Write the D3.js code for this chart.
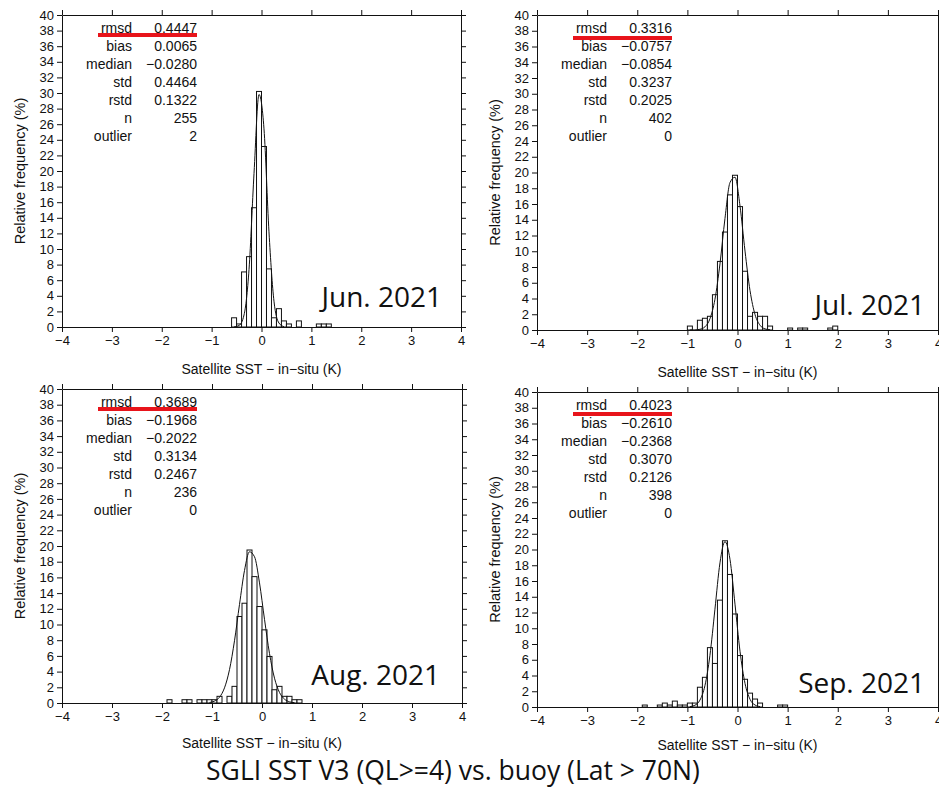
<!DOCTYPE html>
<html>
<head>
<meta charset="utf-8">
<script src="https://cdn.jsdelivr.net/npm/d3@7"></script>
<style>
  body { margin: 0; background: #fff; }
  svg { display: block; }
</style>
</head>
<body>
<svg class="chart"></svg>
<script>
// panel labels and stats
const months = ["Jun. 2021", "Jul. 2021", "Aug. 2021", "Sep. 2021"];
const statNames = ["rmsd", "bias", "median", "std", "rstd", "n", "outlier"];
const junStats = ["0.4447", "0.0065", "\u22120.0280", "0.4464", "0.1322", "255", "2"];
const julStats = ["0.3316", "\u22120.0757", "\u22120.0854", "0.3237", "0.2025", "402", "0"];
const augStats = ["0.3689", "\u22120.1968", "\u22120.2022", "0.3134", "0.2467", "236", "0"];
const sepStats = ["0.4023", "\u22120.2610", "\u22120.2368", "0.3070", "0.2126", "398", "0"];

const xTicks = [-4, -3, -2, -1, 0, 1, 2, 3, 4];
const yTicks = [0, 2, 4, 6, 8, 10, 12, 14, 16, 18, 20, 22, 24, 26, 28, 30, 32, 34, 36, 38, 40];
const binWidth = 0.1;

// histogram bins: left edge (K) and relative frequency (%)
const junBinStart = [-0.6, -0.5, -0.4, -0.3, -0.2, -0.1, 0.0, 0.1, 0.2, 0.3, 0.4, 0.5, 0.7, 1.1, 1.2, 1.3];
const junFreq = [1.18, 0.39, 7.06, 9.02, 15.29, 30.2, 23.14, 7.45, 1.18, 2.35, 0.78, 0.39, 0.78, 0.39, 0.39, 0.39];

const julBinStart = [-1.0, -0.8, -0.7, -0.6, -0.5, -0.4, -0.3, -0.2, -0.1, 0.0, 0.1, 0.2, 0.3, 0.4, 0.5, 0.6, 1.0, 1.2, 1.3, 1.8, 1.9];
const julFreq = [0.5, 1.24, 1.49, 1.74, 4.48, 8.71, 12.44, 17.16, 19.65, 15.67, 7.46, 1.74, 2.24, 1.74, 1.74, 0.5, 0.25, 0.25, 0.25, 0.25, 0.5];

const augBinStart = [-1.9, -1.6, -1.5, -1.3, -1.2, -1.1, -1.0, -0.9, -0.7, -0.6, -0.5, -0.4, -0.3, -0.2, -0.1, 0.0, 0.1, 0.2, 0.3, 0.4, 0.5, 0.6, 0.7];
const augFreq = [0.42, 0.42, 0.42, 0.42, 0.42, 0.42, 0.42, 0.85, 0.85, 2.12, 11.02, 12.71, 19.49, 16.1, 12.29, 9.32, 5.93, 1.69, 2.12, 0.85, 0.85, 0.42, 0.42];

const sepBinStart = [-1.9, -1.6, -1.5, -1.4, -1.3, -1.2, -1.1, -1.0, -0.9, -0.8, -0.7, -0.6, -0.5, -0.4, -0.3, -0.2, -0.1, 0.0, 0.1, 0.2, 0.3, 0.4, 0.8, 0.9];
const sepFreq = [0.25, 0.25, 0.5, 0.25, 0.75, 0.25, 0.25, 0.5, 0.5, 2.51, 3.77, 7.54, 5.53, 13.57, 21.11, 16.83, 11.81, 6.53, 3.52, 1.76, 1.01, 0.5, 0.25, 0.25];

// fitted curve, read at bin centres
const junCurveX = [-0.55, -0.45, -0.35, -0.25, -0.15, -0.05, 0.05, 0.15, 0.25, 0.35, 0.45];
const junCurveY = [0.01, 0.19, 1.55, 7.37, 19.7, 29.8, 25.4, 12.2, 3.31, 0.51, 0.04];

const julCurveX = [-0.95, -0.85, -0.75, -0.65, -0.55, -0.45, -0.35, -0.25, -0.15, -0.05, 0.05, 0.15, 0.25, 0.35, 0.45, 0.55, 0.65];
const julCurveY = [0.0, 0.02, 0.09, 0.4, 1.42, 3.9, 8.39, 14.16, 18.72, 19.4, 15.75, 10.02, 5.0, 1.95, 0.6, 0.14, 0.03];

const augCurveX = [-1.05, -0.95, -0.85, -0.75, -0.65, -0.55, -0.45, -0.35, -0.25, -0.15, -0.05, 0.05, 0.15, 0.25, 0.35, 0.45, 0.55, 0.65];
const augCurveY = [0.07, 0.24, 0.74, 1.93, 4.25, 7.93, 12.56, 16.88, 19.26, 18.63, 15.3, 10.66, 6.3, 3.16, 1.34, 0.49, 0.15, 0.04];

const sepCurveX = [-0.95, -0.85, -0.75, -0.65, -0.55, -0.45, -0.35, -0.25, -0.15, -0.05, 0.05, 0.15, 0.25, 0.35, 0.45];
const sepCurveY = [0.04, 0.22, 0.87, 2.7, 6.56, 12.42, 18.3, 21.0, 18.76, 13.06, 7.08, 2.99, 0.98, 0.25, 0.05];

const mainTitle = "SGLI SST V3 (QL>=4) vs. buoy (Lat > 70N)";
const xTitle = "Satellite SST \u2212 in\u2212situ (K)";
const yTitle = "Relative frequency (%)";

const width = 939, height = 787;

// where each panel sits on the page
const layout = [
  {left: 62, right: 461, top: 15, bottom: 327, labelDx: -19, labelDy: -20, redDy: 20, titleDy: 47},
  {left: 537, right: 938, top: 15, bottom: 330, labelDx: -13, labelDy: -15, redDy: 23, titleDy: 47},
  {left: 62, right: 462, top: 389, bottom: 703, labelDx: -22, labelDy: -18, redDy: 20, titleDy: 45},
  {left: 537, right: 938, top: 392, bottom: 707, labelDx: -13, labelDy: -14, redDy: 22, titleDy: 43}
];

const panelData = [
  {starts: junBinStart, freq: junFreq, cx: junCurveX, cy: junCurveY, stats: junStats},
  {starts: julBinStart, freq: julFreq, cx: julCurveX, cy: julCurveY, stats: julStats},
  {starts: augBinStart, freq: augFreq, cx: augCurveX, cy: augCurveY, stats: augStats},
  {starts: sepBinStart, freq: sepFreq, cx: sepCurveX, cy: sepCurveY, stats: sepStats}
];

const sansFont = "'Liberation Sans', Arial, Helvetica, sans-serif";
const labelFont = "'Open Sans', 'Noto Sans', sans-serif";

const svg = d3.select(".chart")
  .attr("width", width)
  .attr("height", height)
  .style("background", "#fff");

panelData.forEach((p, k) => {
  const box = layout[k];

  const x = d3.scaleLinear().domain([-4, 4]).range([box.left, box.right]);
  const y = d3.scaleLinear().domain([0, 40]).range([box.bottom, box.top]);

  const g = svg.append("g");

  // bars
  g.selectAll("rect.bar")
    .data(p.starts.map((s, i) => ({s: s, v: p.freq[i]})))
    .enter()
    .append("rect")
      .attr("class", "bar")
      .attr("x", d => x(d.s))
      .attr("y", d => y(d.v))
      .attr("width", d => x(d.s + binWidth) - x(d.s))
      .attr("height", d => y(0) - y(d.v))
      .attr("fill", "#fff")
      .attr("stroke", "#111")
      .attr("stroke-width", 1);

  // fitted curve
  const line = d3.line()
    .x(d => x(d[0]))
    .y(d => y(d[1]))
    .curve(d3.curveMonotoneX);

  g.append("path")
    .datum(p.cx.map((cx, i) => [cx, p.cy[i]]))
    .attr("d", line)
    .attr("fill", "none")
    .attr("stroke", "#111")
    .attr("stroke-width", 1);

  // axes, all four sides
  const axisStyle = sel => {
    sel.selectAll("path, line").attr("stroke", "#111");
    sel.selectAll("text")
      .attr("fill", "#111")
      .style("font-family", sansFont)
      .style("font-size", "13px");
  };

  g.append("g")
    .attr("transform", `translate(0,${box.bottom})`)
    .call(d3.axisBottom(x).tickValues(xTicks).tickSize(5).tickSizeOuter(0).tickPadding(4))
    .call(axisStyle);

  g.append("g")
    .attr("transform", `translate(0,${box.top})`)
    .call(d3.axisTop(x).tickValues(xTicks).tickSize(5).tickSizeOuter(0).tickFormat(""))
    .call(axisStyle);

  g.append("g")
    .attr("transform", `translate(${box.left},0)`)
    .call(d3.axisLeft(y).tickValues(yTicks).tickSize(5).tickSizeOuter(0).tickPadding(3))
    .call(axisStyle);

  g.append("g")
    .attr("transform", `translate(${box.right},0)`)
    .call(d3.axisRight(y).tickValues(yTicks).tickSize(5).tickSizeOuter(0).tickFormat(""))
    .call(axisStyle);

  // axis titles
  g.append("text")
    .attr("x", (box.left + box.right) / 2)
    .attr("y", box.bottom + box.titleDy)
    .attr("text-anchor", "middle")
    .style("font-family", sansFont)
    .style("font-size", "14px")
    .attr("fill", "#111")
    .text(xTitle);

  g.append("text")
    .attr("transform", `translate(${box.left - 37},${(box.top + box.bottom) / 2}) rotate(-90)`)
    .attr("text-anchor", "middle")
    .style("font-family", sansFont)
    .style("font-size", "14.5px")
    .attr("fill", "#111")
    .text(yTitle);

  // stats table
  const rows = g.append("g")
    .style("font-family", sansFont)
    .style("font-size", "14px")
    .attr("fill", "#111");

  statNames.forEach((name, i) => {
    const ty = box.top + 17.5 + i * 18;
    rows.append("text")
      .attr("x", box.left + 70)
      .attr("y", ty)
      .attr("text-anchor", "end")
      .text(name);
    rows.append("text")
      .attr("x", box.left + 135)
      .attr("y", ty)
      .attr("text-anchor", "end")
      .text(p.stats[i]);
  });

  // red underline on rmsd
  g.append("line")
    .attr("x1", box.left + 36)
    .attr("x2", box.left + 135)
    .attr("y1", box.top + box.redDy)
    .attr("y2", box.top + box.redDy)
    .attr("stroke", "#e8141b")
    .attr("stroke-width", 4);

  // month label
  g.append("text")
    .attr("x", box.right + box.labelDx)
    .attr("y", box.bottom + box.labelDy)
    .attr("text-anchor", "end")
    .style("font-family", labelFont)
    .style("font-size", "28px")
    .attr("fill", "#111")
    .text(months[k]);
});

svg.append("text")
  .attr("x", 453)
  .attr("y", 780)
  .attr("text-anchor", "middle")
  .style("font-family", labelFont)
  .style("font-size", "26.5px")
  .attr("fill", "#111")
  .text(mainTitle);
</script>
</body>
</html>
